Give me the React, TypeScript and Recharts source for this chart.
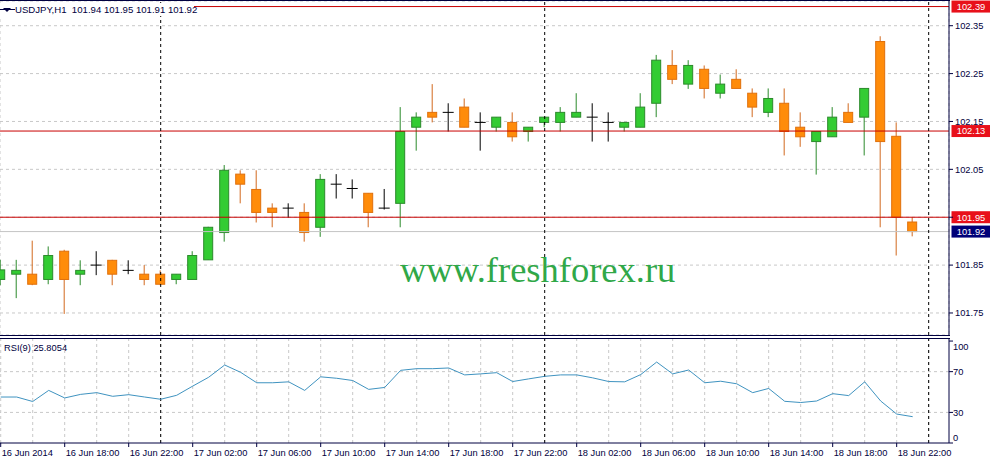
import React from 'react';
import {
  ComposedChart,
  LineChart,
  Line,
  Bar,
  XAxis,
  YAxis,
  CartesianGrid,
  ReferenceLine,
} from 'recharts';

// ---- data (H1 bars, index 0 = 16 Jun 2014 14:00) ----
const opens = [
  101.820, 101.831, 101.831, 101.820, 101.879, 101.831, 101.850, 101.860, 101.839, 101.831,
  101.831, 101.820, 101.820, 101.861, 101.918, 102.040, 102.008, 101.969, 101.969, 101.960,
  101.929, 102.019, 102.010, 102.000, 101.969, 101.979, 102.138, 102.169, 102.169, 102.180,
  102.148, 102.138, 102.148, 102.129, 102.148, 102.148, 102.159, 102.159, 102.148, 102.138,
  102.138, 102.188, 102.267, 102.228, 102.259, 102.209, 102.238, 102.209, 102.169, 102.188,
  102.138, 102.108, 102.118, 102.169, 102.159, 102.317, 102.119, 101.940,
];
const highs = [
  101.861, 101.861, 101.901, 101.889, 101.882, 101.860, 101.879, 101.861, 101.860, 101.850,
  101.839, 101.831, 101.879, 101.930, 102.059, 102.048, 102.048, 101.979, 101.979, 101.979,
  102.040, 102.040, 102.029, 102.000, 102.009, 102.180, 102.169, 102.228, 102.188, 102.198,
  102.169, 102.159, 102.169, 102.138, 102.159, 102.180, 102.209, 102.188, 102.169, 102.148,
  102.209, 102.289, 102.299, 102.278, 102.267, 102.248, 102.259, 102.219, 102.219, 102.219,
  102.169, 102.129, 102.180, 102.188, 102.219, 102.328, 102.148, 101.950,
];
const lows = [
  101.808, 101.781, 101.808, 101.810, 101.748, 101.808, 101.829, 101.808, 101.831, 101.808,
  101.808, 101.810, 101.820, 101.861, 101.899, 101.979, 101.939, 101.929, 101.949, 101.899,
  101.909, 101.989, 101.989, 101.929, 101.966, 101.929, 102.089, 102.148, 102.129, 102.138,
  102.089, 102.129, 102.108, 102.108, 102.138, 102.129, 102.159, 102.108, 102.108, 102.129,
  102.138, 102.159, 102.228, 102.218, 102.198, 102.198, 102.219, 102.159, 102.159, 102.079,
  102.097, 102.039, 102.118, 102.148, 102.079, 101.929, 101.870, 101.910,
];
const closes = [
  101.840, 101.839, 101.810, 101.870, 101.820, 101.839, 101.850, 101.831, 101.839, 101.820,
  101.810, 101.831, 101.870, 101.929, 102.048, 102.019, 101.960, 101.960, 101.969, 101.918,
  102.029, 102.019, 102.010, 101.960, 101.969, 102.129, 102.159, 102.159, 102.169, 102.138,
  102.148, 102.159, 102.118, 102.138, 102.159, 102.169, 102.169, 102.159, 102.148, 102.148,
  102.180, 102.278, 102.238, 102.267, 102.219, 102.228, 102.219, 102.180, 102.198, 102.129,
  102.118, 102.129, 102.159, 102.148, 102.219, 102.108, 101.950, 101.920,
];
const rsiValues = [
  45.1, 45.1, 40.7, 51.6, 44.2, 47.7, 49.4, 45.8, 47.4, 45.1,
  42.9, 46.8, 55.8, 64.5, 76.5, 69.3, 59.1, 59.1, 60.0, 51.6,
  64.9, 63.5, 61.3, 52.6, 54.5, 71.3, 72.9, 72.9, 73.6, 66.8,
  67.8, 69.0, 60.3, 62.9, 65.4, 66.8, 66.8, 63.9, 60.3, 60.0,
  67.1, 79.4, 67.8, 71.6, 59.1, 60.6, 58.1, 49.4, 53.5, 40.9,
  39.7, 41.2, 48.4, 46.5, 60.0, 41.2, 28.4, 25.8,
];
const timeTickIndex = [0, 4, 8, 12, 16, 20, 24, 28, 32, 36, 40, 44, 48, 52, 56];
const timeTickLabels = [
  '16 Jun 2014', '16 Jun 18:00', '16 Jun 22:00', '17 Jun 02:00', '17 Jun 06:00',
  '17 Jun 10:00', '17 Jun 14:00', '17 Jun 18:00', '17 Jun 22:00', '18 Jun 02:00',
  '18 Jun 06:00', '18 Jun 10:00', '18 Jun 14:00', '18 Jun 18:00', '18 Jun 22:00',
];
const gridIndex = [0, 2, 4, 6, 8, 10, 12, 14, 16, 18, 20, 22, 24, 26, 28, 30, 32, 34, 36, 38, 40, 42, 44, 46, 48, 50, 52, 54, 56, 58];
const daySeparators = [10, 34, 58];
const priceTicks = [101.75, 101.85, 101.95, 102.05, 102.15, 102.25, 102.35];
const levelLines = [102.39, 102.13, 101.95];
const lastPrice = 101.92;
const rsiTicks = [0, 30, 70, 100];
const rsiLevels = [30, 70];

const candles = opens.map((o, i) => ({
  i,
  open: o,
  high: highs[i],
  low: lows[i],
  close: closes[i],
  rsi: rsiValues[i],
}));

// ---- styles ----
const FONT = '"Liberation Sans", Arial, sans-serif';
const FS = 9.3;
const NAVY = '#000040';
const GRID = '#c8c8c8';
const X_DOMAIN: [number, number] = [-0.044, 59.27];

const Candle = (props: any) => {
  const { x, y, width, height, payload } = props;
  if (!payload) return null;
  const { open, close, high, low } = payload;
  const cx = x + width / 2;
  const top = Math.min(y, y + height);
  const h = Math.abs(height);
  const ppu = high - low > 0 ? h / (high - low) : 0;
  const py = (v: number) => top + (high - v) * ppu;
  if (open === close) {
    return (
      <g>
        <line x1={cx} x2={cx} y1={py(high)} y2={py(low)} stroke="#000" strokeWidth={1} />
        <line x1={cx - 5.5} x2={cx + 5.5} y1={py(open)} y2={py(open)} stroke="#000" strokeWidth={1} />
      </g>
    );
  }
  const up = close > open;
  const fill = up ? '#33cc33' : '#ff8c0a';
  const stroke = up ? '#2b8a2b' : '#e0700c';
  const wick = up ? '#2b8a2b' : '#d2691e';
  const bt = py(Math.max(open, close));
  const bb = py(Math.min(open, close));
  return (
    <g>
      <line x1={cx} x2={cx} y1={py(high)} y2={py(low)} stroke={wick} strokeWidth={1} />
      <rect x={cx - 4.5} y={bt} width={9} height={Math.max(bb - bt, 1)} fill={fill} stroke={stroke} strokeWidth={1} />
    </g>
  );
};

const PriceTag = (props: any) => {
  const { viewBox, text, color } = props;
  if (!viewBox) return null;
  const x0 = viewBox.x + viewBox.width + 2.5;
  const yc = viewBox.y;
  return (
    <g>
      <rect x={x0} y={yc - 6} width={38.5} height={12} fill={color} />
      <text x={x0 + 19.5} y={yc} dy="0.36em" textAnchor="middle" fill="#fff" fontSize={FS} fontFamily={FONT}>
        {text}
      </text>
    </g>
  );
};

const TimeTick = (props: any) => {
  const { x, y, payload } = props;
  const k = timeTickIndex.indexOf(payload.value);
  return (
    <text x={x + 1} y={y} dy="0.71em" textAnchor="start" fill={NAVY} fontSize={FS} fontFamily={FONT}>
      {k >= 0 ? timeTickLabels[k] : ''}
    </text>
  );
};

const RsiTick = (props: any) => {
  const { x, y, payload } = props;
  const v = payload.value;
  const shift = v === 100 ? 5.6 : v === 0 ? -5.7 : 0;
  return (
    <text x={x} y={y + shift} dy="0.36em" textAnchor="start" fill={NAVY} fontSize={FS} fontFamily={FONT}>
      {v}
    </text>
  );
};

// tick labels hidden where a price tag sits on the same level
const priceTickFormatter = (v: number) =>
  levelLines.some((l) => Math.abs(l - v) < 1e-6) ? '' : v.toFixed(2);

const hLine = (top: number, left: number, width: number) => (
  <div style={{ position: 'absolute', top, left, width, height: 1, background: NAVY }} />
);

export default function App() {
  return (
    <div style={{ position: 'absolute', left: 0, top: 0, width: 991, height: 463, background: '#fff', overflow: 'hidden', fontFamily: FONT }}>
      {/* main price panel */}
      <div style={{ position: 'absolute', left: 0, top: 0 }}>
        <ComposedChart width={991} height={336} data={candles} margin={{ top: 1, right: 0, bottom: 1, left: 0 }}>
          <CartesianGrid stroke={GRID} strokeDasharray="3 3" />
          <XAxis
            dataKey="i"
            type="number"
            domain={X_DOMAIN}
            allowDataOverflow
            ticks={gridIndex}
            interval={0}
            tick={false}
            tickLine={false}
            axisLine={false}
            height={0}
          />
          <YAxis
            orientation="right"
            width={42}
            type="number"
            domain={[101.704, 102.4016]}
            allowDataOverflow
            ticks={priceTicks}
            interval={0}
            tickFormatter={priceTickFormatter}
            tick={{ fill: NAVY, fontSize: FS, fontFamily: FONT }}
            tickSize={4}
            tickMargin={2}
            axisLine={{ stroke: NAVY }}
            tickLine={{ stroke: NAVY }}
          />
          <ReferenceLine y={lastPrice} stroke="#c4c4c4" label={<PriceTag text={lastPrice.toFixed(2)} color="#000078" />} />
          {levelLines.map((v) => (
            <ReferenceLine key={v} y={v} stroke="#c80000" label={<PriceTag text={v.toFixed(2)} color="#e8101a" />} />
          ))}
          {daySeparators.map((d) => (
            <ReferenceLine key={d} x={d} stroke="#000" strokeDasharray="3 3" />
          ))}
          <Bar
            dataKey={(d: any) => [d.low, d.high]}
            barSize={9}
            shape={<Candle />}
            isAnimationActive={false}
          />
        </ComposedChart>
      </div>

      {/* RSI panel */}
      <div style={{ position: 'absolute', left: 0, top: 338 }}>
        <LineChart width={991} height={125} data={candles} margin={{ top: 0, right: 0, bottom: 0, left: 0 }}>
          <CartesianGrid stroke={GRID} strokeDasharray="3 3" horizontal={false} verticalValues={gridIndex} />
          <XAxis
            dataKey="i"
            type="number"
            domain={X_DOMAIN}
            allowDataOverflow
            ticks={timeTickIndex}
            interval={0}
            tick={<TimeTick />}
            tickSize={4}
            tickMargin={2}
            height={20}
            axisLine={{ stroke: NAVY }}
            tickLine={{ stroke: NAVY }}
          />
          <YAxis
            orientation="right"
            width={42}
            type="number"
            domain={[0, 103]}
            allowDataOverflow
            ticks={rsiTicks}
            interval={0}
            tick={<RsiTick />}
            tickSize={4}
            tickMargin={0}
            axisLine={{ stroke: NAVY }}
            tickLine={{ stroke: NAVY }}
          />
          {rsiLevels.map((v) => (
            <ReferenceLine key={v} y={v} stroke={GRID} strokeDasharray="3 3" />
          ))}
          {daySeparators.map((d) => (
            <ReferenceLine key={d} x={d} stroke="#000" strokeDasharray="3 3" />
          ))}
          <Line type="linear" dataKey="rsi" stroke="#3f93c0" strokeWidth={1} dot={false} isAnimationActive={false} />
        </LineChart>
      </div>

      {/* panel borders */}
      {hLine(0, 0, 950)}
      {hLine(335, 0, 950)}
      {hLine(338, 0, 950)}

      {/* header */}
      <div style={{ position: 'absolute', left: 0, top: 3, height: 13, width: 194, background: '#fff' }}>
        <div style={{ position: 'absolute', left: 0, top: 6, width: 15, height: 1, background: NAVY }} />
        <div style={{ position: 'absolute', left: 3, top: 5, width: 0, height: 0, borderLeft: '4px solid transparent', borderRight: '4px solid transparent', borderTop: '4px solid ' + NAVY }} />
        <div style={{ position: 'absolute', left: 15, top: 0, fontSize: 9.6, lineHeight: '13px', color: NAVY, whiteSpace: 'nowrap' }}>
          USDJPY,H1&nbsp;&nbsp;101.94 101.95 101.91 101.92
        </div>
      </div>

      {/* RSI label */}
      <div style={{ position: 'absolute', left: 4, top: 342, fontSize: FS, lineHeight: '12px', color: NAVY, whiteSpace: 'nowrap' }}>
        RSI(9) 25.8054
      </div>

      {/* watermark */}
      <div style={{ position: 'absolute', left: 400, top: 252, fontFamily: '"Liberation Serif", "Times New Roman", serif', fontSize: 36.5, lineHeight: '36px', color: '#30a848', whiteSpace: 'nowrap' }}>
        www.freshforex.ru
      </div>
    </div>
  );
}
